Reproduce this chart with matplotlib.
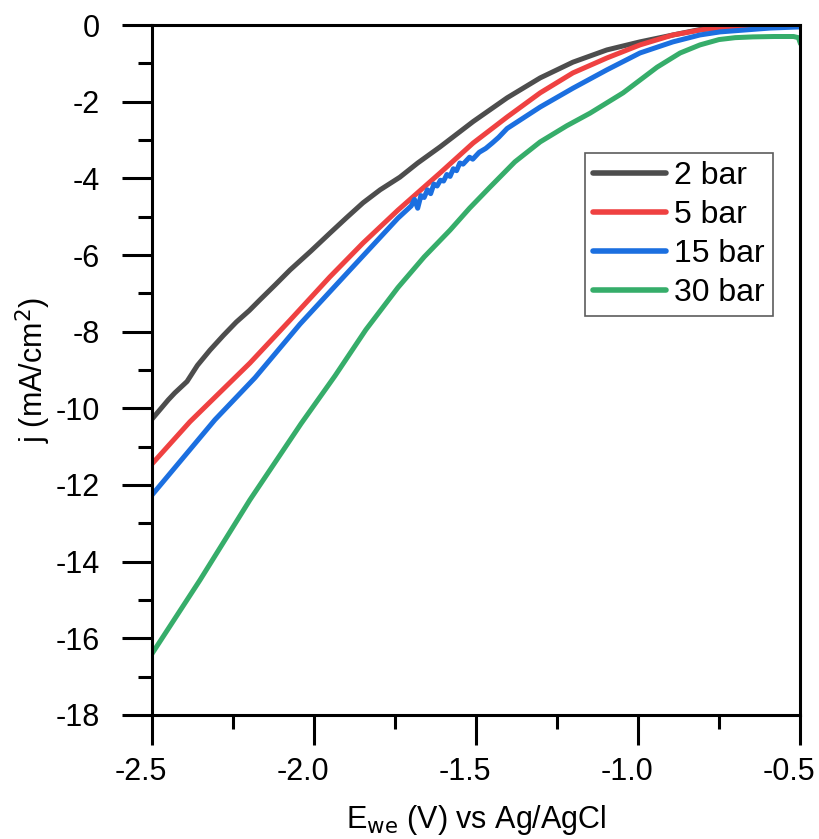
import numpy as np
import matplotlib
matplotlib.use('Agg')
import matplotlib.pyplot as plt
import matplotlib.transforms as mtransforms
from matplotlib.ticker import MultipleLocator, FormatStrFormatter

plt.rcParams['font.family'] = ['Liberation Sans', 'DejaVu Sans']
plt.rcParams['axes.unicode_minus'] = False

# 2 bar
e_2bar = [-2.5, -2.45, -2.43, -2.392, -2.36, -2.321, -2.28, -2.24, -2.2, -2.167,
          -2.12, -2.074, -2.01, -1.951, -1.9, -1.849, -1.796, -1.735, -1.68,
          -1.611, -1.509, -1.404, -1.302, -1.201, -1.096, -0.994, -0.892, -0.81,
          -0.70, -0.60, -0.5]
j_2bar = [-10.28, -9.78, -9.6, -9.3, -8.88, -8.48, -8.1, -7.75, -7.45, -7.17,
          -6.78, -6.39, -5.9, -5.43, -5.03, -4.64, -4.3, -3.97, -3.6,
          -3.18, -2.52, -1.9, -1.38, -0.97, -0.65, -0.44, -0.26, -0.12,
          -0.03, -0.01, 0.0]

# 5 bar
e_5bar = [-2.5, -2.383, -2.25, -2.198, -2.074, -1.951, -1.849, -1.741, -1.611,
          -1.509, -1.404, -1.302, -1.201, -1.096, -0.994, -0.892, -0.80, -0.716,
          -0.60, -0.5]
j_5bar = [-11.45, -10.35, -9.25, -8.82, -7.7, -6.57, -5.69, -4.83, -3.86,
          -3.08, -2.4, -1.77, -1.25, -0.86, -0.52, -0.26, -0.12, -0.05,
          -0.01, 0.0]

# 15 bar
e_15bar = [-2.5, -2.4, -2.306, -2.182, -2.043, -1.889, -1.741, -1.70, -1.69, -1.68,
           -1.67, -1.66, -1.65, -1.64, -1.63, -1.62, -1.61, -1.60, -1.59, -1.58,
           -1.57, -1.56, -1.55, -1.54, -1.52, -1.51, -1.49, -1.47, -1.45, -1.43,
           -1.404, -1.302, -1.201, -1.096, -0.994, -0.892, -0.809, -0.747, -0.593,
           -0.5]
j_15bar = [-12.26, -11.25, -10.3, -9.2, -7.8, -6.39, -5.04, -4.72, -4.55, -4.78,
           -4.45, -4.5, -4.3, -4.4, -4.15, -4.2, -4.05, -4.07, -3.9, -3.95,
           -3.75, -3.8, -3.6, -3.63, -3.45, -3.5, -3.32, -3.22, -3.08, -2.93,
           -2.7, -2.14, -1.65, -1.17, -0.73, -0.44, -0.26, -0.18, -0.08,
           -0.05]

# 30 bar
e_30bar = [-2.5, -2.352, -2.198, -2.04, -1.935, -1.84, -1.741, -1.66, -1.58,
           -1.52, -1.457, -1.38, -1.302, -1.22, -1.148, -1.046, -0.941, -0.87,
           -0.809, -0.75, -0.70, -0.645, -0.58, -0.52, -0.505, -0.5]
j_30bar = [-16.4, -14.48, -12.39, -10.4, -9.15, -7.95, -6.85, -6.05, -5.35,
           -4.78, -4.23, -3.57, -3.05, -2.63, -2.3, -1.77, -1.1, -0.73,
           -0.52, -0.38, -0.33, -0.31, -0.30, -0.30, -0.33, -0.45]

fig = plt.figure(figsize=(8.2, 8.39), dpi=100)
ax = fig.add_axes([0.1854, 0.1478, 0.7902, 0.8224])

ax.plot(e_2bar, j_2bar, color='#4d4d4d', lw=3.6, label='2 bar')
ax.plot(e_5bar, j_5bar, color='#ef4141', lw=3.6, label='5 bar')
ax.plot(e_15bar, j_15bar, color='#1b6fe0', lw=3.6, label='15 bar')
ax.plot(e_30bar, j_30bar, color='#36ad6a', lw=3.6, label='30 bar')

ax.set_xlim(-2.5, -0.5)
ax.set_ylim(-18, 0)
ax.xaxis.set_major_locator(MultipleLocator(0.5))
ax.xaxis.set_minor_locator(MultipleLocator(0.25))
ax.yaxis.set_major_locator(MultipleLocator(2))
ax.yaxis.set_minor_locator(MultipleLocator(1))
ax.xaxis.set_major_formatter(FormatStrFormatter('%.1f'))

for s in ax.spines.values():
    s.set_linewidth(2.2)
ax.tick_params(which='major', direction='out', length=21.5, width=2.2, labelsize=22)
ax.tick_params(which='minor', direction='out', length=10, width=2.2)
ax.tick_params(axis='x', which='major', pad=9)
ax.tick_params(axis='y', which='major', pad=16)

# x tick labels sit a bit left of their ticks in the original
shift = mtransforms.ScaledTranslation(-11 / 100, 0, fig.dpi_scale_trans)
for lab in ax.get_xticklabels():
    lab.set_transform(lab.get_transform() + shift)

ax.set_xlabel(r'E$_{\rm we}$ (V) vs Ag/AgCl', fontsize=22, labelpad=11)
ax.set_ylabel(r'j (mA/cm$^2$)', fontsize=22, labelpad=2)

leg = ax.legend(loc='upper right', bbox_to_anchor=(0.958, 0.814), fontsize=23,
                frameon=True, fancybox=False, handlelength=2.3, handletextpad=0.25,
                labelspacing=0.28, borderpad=0.25, borderaxespad=0)
leg.get_frame().set_edgecolor('#333333')
leg.get_frame().set_linewidth(1.2)
for h in leg.get_lines():
    h.set_linewidth(4)
    h.set_solid_capstyle('round')

fig.savefig('out.png', dpi=100)
